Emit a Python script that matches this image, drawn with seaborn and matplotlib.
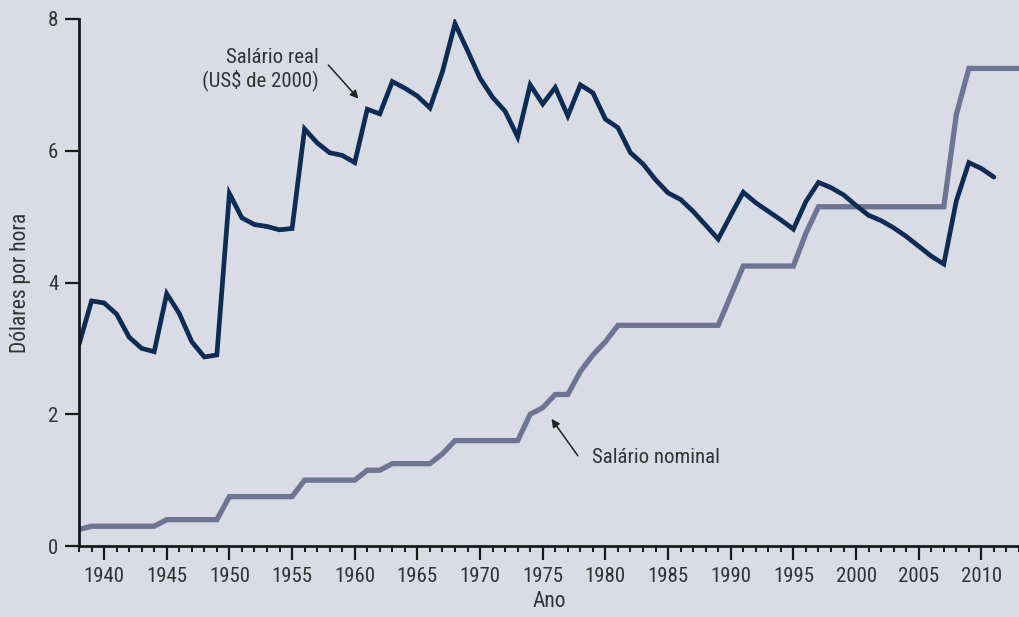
import numpy as np
import pandas as pd
import matplotlib
matplotlib.use("Agg")
import matplotlib.pyplot as plt
from matplotlib.ticker import MultipleLocator
import seaborn as sns

# salario minimo nominal (US$) por ano, 1938-2013
anos_nominal = list(range(1938, 2014))
nominal = ([0.25] + [0.30] * 6 + [0.40] * 5 + [0.75] * 6 + [1.00] * 5 +
           [1.15] * 2 + [1.25] * 4 + [1.40] + [1.60] * 6 +
           [2.00, 2.10, 2.30, 2.30, 2.65, 2.90, 3.10] + [3.35] * 9 +
           [3.80] + [4.25] * 5 + [4.75] + [5.15] * 11 + [6.55] + [7.25] * 5)

# salario real (US$ de 2000), 1938-2011
anos_real = list(range(1938, 2012))
real = [3.06, 3.72, 3.69, 3.52, 3.17, 3.00, 2.95, 3.83, 3.53, 3.10,
        2.87, 2.90, 5.35, 4.98, 4.88, 4.85, 4.80, 4.82, 6.33, 6.12,
        5.97, 5.93, 5.82, 6.63, 6.56, 7.05, 6.95, 6.83, 6.65, 7.20,
        7.93, 7.52, 7.10, 6.81, 6.60, 6.21, 7.00, 6.71, 6.96, 6.53,
        7.00, 6.88, 6.48, 6.35, 5.97, 5.80, 5.56, 5.36, 5.26, 5.08,
        4.87, 4.66, 5.02, 5.37, 5.21, 5.08, 4.95, 4.81, 5.23, 5.52,
        5.44, 5.33, 5.17, 5.02, 4.94, 4.83, 4.70, 4.55, 4.40, 4.28,
        5.24, 5.82, 5.73, 5.60]

df_nom = pd.DataFrame({"ano": anos_nominal, "valor": nominal})
df_real = pd.DataFrame({"ano": anos_real, "valor": real})

bg = "#d9dce5"
sns.set_style("ticks", {"axes.facecolor": bg, "figure.facecolor": bg})
plt.rcParams['font.family'] = ['Roboto Condensed', 'Liberation Sans Narrow', 'Roboto', 'DejaVu Sans']
plt.rcParams['text.color'] = '#2a2a2a'

fig = plt.figure(figsize=(10.19, 6.17), dpi=100)
ax = fig.add_axes([79 / 1019, 1 - 546 / 617, 1 - 79 / 1019, (546 - 19) / 617])

sns.lineplot(data=df_nom, x="ano", y="valor", ax=ax, color="#6e7592",
             linewidth=3.8, solid_joinstyle="miter")
sns.lineplot(data=df_real, x="ano", y="valor", ax=ax, color="#0c2c56",
             linewidth=3.4, solid_joinstyle="miter")

ax.set_xlim(1938, 2013)
ax.set_ylim(0, 8)
ax.set_yticks([0, 2, 4, 6, 8])
ax.xaxis.set_minor_locator(MultipleLocator(1))
ax.set_xticks(range(1940, 2011, 5))

for s in ["top", "right"]:
    ax.spines[s].set_visible(False)
for s in ["left", "bottom"]:
    ax.spines[s].set_linewidth(2.0)
    ax.spines[s].set_color("#1a1a1a")

ax.tick_params(axis="both", which="major", length=10, width=1.6,
               color="#1a1a1a", labelsize=15, labelcolor="#333333", pad=5)
ax.tick_params(axis="x", which="minor", length=4.5, width=1.4, color="#1a1a1a")

ax.set_xlabel("Ano", fontsize=15.5, color="#333333", labelpad=4)
ax.set_ylabel("Dólares por hora", fontsize=15.5, color="#333333", labelpad=12)

ax.text(1957.1, 7.23, "Salário real\n(US$ de 2000)", ha="right", va="center",
        fontsize=15, color="#333333", linespacing=1.15)
ax.annotate("", xy=(1960.3, 6.79), xytext=(1957.9, 7.30),
            arrowprops=dict(arrowstyle="-|>", color="#222222", lw=1.1,
                            shrinkA=0, shrinkB=0, mutation_scale=12))
ax.text(1978.9, 1.35, "Salário nominal", ha="left", va="center",
        fontsize=15, color="#333333")
ax.annotate("", xy=(1975.7, 1.93), xytext=(1977.8, 1.37),
            arrowprops=dict(arrowstyle="-|>", color="#222222", lw=1.1,
                            shrinkA=0, shrinkB=0, mutation_scale=12))

fig.savefig("out.png", dpi=100, facecolor=bg)
